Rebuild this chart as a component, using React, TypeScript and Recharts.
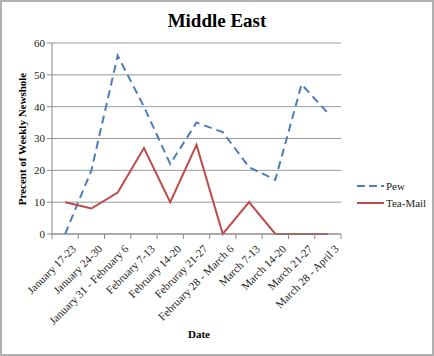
import { LineChart, Line, XAxis, YAxis, CartesianGrid } from 'recharts';

const weeks = [
  'January 17-23',
  'January 24-30',
  'January 31 - February 6',
  'February 7-13',
  'February 14-20',
  'Februray 21-27',
  'February 28 - March 6',
  'March 7-13',
  'March 14-20',
  'March 21-27',
  'March 28 - April 3',
];
const pew = [0, 20, 56, 40, 22, 35, 32, 21, 17, 47, 38];
const teaMail = [10, 8, 13, 27, 10, 28, 0, 10, 0, 0, 0];
const yTicks = [0, 10, 20, 30, 40, 50, 60];

const PEW_COLOR = '#4a7ebb';
const TEA_COLOR = '#be4b48';
const FONT = '"Liberation Serif", "DejaVu Serif", serif';

const data = weeks.map((week, i) => ({ week, pew: pew[i], teaMail: teaMail[i] }));

// plot spans 289px across the 11 weeks
const HALF_BAND = 289 / weeks.length / 2;

function DateTick(props: any) {
  const { x, y, payload, index } = props;
  const isLast = index === weeks.length - 1;
  return (
    <g>
      <line x1={x - HALF_BAND} y1={y - 8} x2={x - HALF_BAND} y2={y - 3} stroke="#888" />
      {isLast && <line x1={x + HALF_BAND} y1={y - 8} x2={x + HALF_BAND} y2={y - 3} stroke="#888" />}
      <text
        x={x + 6}
        y={y + 2}
        textAnchor="end"
        fontSize={11.2}
        fontFamily={FONT}
        fill="#222"
        transform={`rotate(-45, ${x + 6}, ${y + 2})`}
        dominantBaseline="hanging"
      >
        {payload.value}
      </text>
    </g>
  );
}

function LegendBox() {
  const items = [
    { name: 'Pew', color: PEW_COLOR, dash: '8 4' },
    { name: 'Tea-Mail', color: TEA_COLOR, dash: undefined },
  ];
  return (
    <svg width={80} height={36}>
      {items.map((it, i) => (
        <g key={it.name}>
          <line
            x1={0}
            y1={8 + i * 17}
            x2={27}
            y2={8 + i * 17}
            stroke={it.color}
            strokeWidth={2}
            strokeDasharray={it.dash}
          />
          <text x={29} y={12 + i * 17} fontSize={11} fontFamily={FONT} fill="#222">
            {it.name}
          </text>
        </g>
      ))}
    </svg>
  );
}

export default function App() {
  return (
    <div
      style={{
        position: 'fixed',
        left: 0,
        top: 0,
        width: 434,
        height: 356,
        background: '#fff',
        border: '2px solid #b0b0b0',
        boxSizing: 'border-box',
      }}
    >
      <div
        style={{
          position: 'absolute',
          left: 0,
          top: 8,
          width: 430,
          textAlign: 'center',
          fontFamily: FONT,
          fontWeight: 'bold',
          fontSize: 19,
        }}
      >
        Middle East
      </div>
      <div
        style={{
          position: 'absolute',
          left: 0,
          top: 326,
          width: 394,
          textAlign: 'center',
          fontFamily: FONT,
          fontWeight: 'bold',
          fontSize: 11,
        }}
      >
        Date
      </div>
      <div
        style={{
          position: 'absolute',
          left: 20 - 120,
          top: 131,
          width: 240,
          textAlign: 'center',
          fontFamily: FONT,
          fontWeight: 'bold',
          fontSize: 11,
          transform: 'rotate(-90deg)',
        }}
      >
        Precent of Weekly Newshole
      </div>
      <div style={{ position: 'absolute', left: -2, top: -2 }}>
        <LineChart width={434} height={356} data={data} margin={{ top: 43, right: 93, bottom: 0, left: 0 }}>
          <CartesianGrid vertical={false} stroke="#999" />
          <XAxis
            dataKey="week"
            interval={0}
            scale="band"
            tickLine={false}
            stroke="#888"
            tick={<DateTick />}
            height={122}
          />
          <YAxis
            domain={[0, 60]}
            ticks={yTicks}
            width={52}
            stroke="#888"
            tickSize={5}
            tick={{ fontSize: 11, fill: '#222', fontFamily: FONT }}
          />
          <Line
            type="linear"
            dataKey="pew"
            name="Pew"
            stroke={PEW_COLOR}
            strokeWidth={2}
            strokeDasharray="8 5"
            dot={false}
            isAnimationActive={false}
          />
          <Line
            type="linear"
            dataKey="teaMail"
            name="Tea-Mail"
            stroke={TEA_COLOR}
            strokeWidth={2}
            dot={false}
            isAnimationActive={false}
          />
        </LineChart>
      </div>
      <div style={{ position: 'absolute', left: 355, top: 176 }}>
        <LegendBox />
      </div>
    </div>
  );
}
